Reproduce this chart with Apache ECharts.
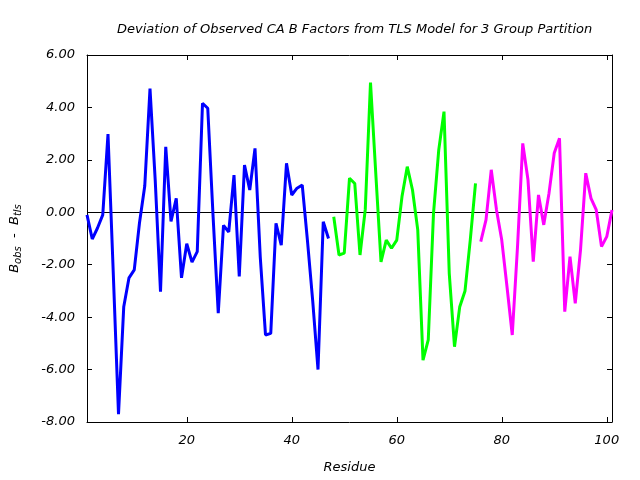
<!DOCTYPE html>
<html>
<head>
<meta charset="utf-8">
<script src="https://cdn.jsdelivr.net/npm/echarts@6.0.0/dist/echarts.min.js"></script>
<style>html,body{margin:0;padding:0;background:#fff}#chart{width:640px;height:480px}</style>
</head>
<body>
<div id="chart"></div>
<script>
// Group 1 (blue): residues 1-47
const group1Start = 1;
const group1Values = [-0.10, -1.02, -0.60, -0.10, 2.98, -2.30, -7.70, -3.60, -2.50, -2.20,
  -0.40, 1.00, 4.72, 1.20, -3.03, 2.50, -0.35, 0.53, -2.50, -1.20,
  -1.90, -1.50, 4.16, 3.97, -0.10, -3.85, -0.50, -0.75, 1.42, -2.45,
  1.80, 0.85, 2.44, -1.70, -4.68, -4.62, -0.42, -1.25, 1.87, 0.66,
  0.92, 1.04, -1.10, -3.40, -6.00, -0.36, -1.00];
// Group 2 (green): residues 48-75
const group2Start = 48;
const group2Values = [-0.17, -1.63, -1.56, 1.30, 1.10, -1.63, 0.10, 4.95, 1.50, -1.89,
  -1.06, -1.37, -1.06, 0.60, 1.74, 0.85, -0.67, -5.64, -4.87, -0.04,
  2.38, 3.84, -2.33, -5.13, -3.60, -3.00, -1.06, 1.10];
// Group 3 (magenta): residues 76-101
const group3Start = 76;
const group3Values = [-1.12, -0.29, 1.62, 0.09, -1.06, -2.84, -4.68, -1.32, 2.63, 1.23,
  -1.88, 0.66, -0.48, 0.73, 2.26, 2.82, -3.79, -1.69, -3.47, -1.44,
  1.49, 0.53, 0.09, -1.31, -0.93, 0.09];
const xTicks = [20, 40, 60, 80, 100];
const yTicks = [-8, -6, -4, -2, 0, 2, 4, 6];

function pairs(start, vals) { return vals.map((v, i) => [start + i, v]); }

const FONT = 'DejaVu Sans';
const chart = echarts.init(document.getElementById('chart'), null, {renderer: 'canvas'});
const grid = {left: 85, right: 28, top: 55, bottom: 58};
const lineSeries = (name, color, data) => ({
  name, type: 'line', data, symbol: 'none', smooth: false,
  lineStyle: {color, width: 3}, itemStyle: {color}, animation: false, z: 3
});
const option = {
  animation: false,
  title: {
    text: 'Deviation of Observed CA B Factors from TLS Model for 3 Group Partition',
    left: 112, top: 18,
    textStyle: {fontFamily: FONT, fontStyle: 'italic', fontWeight: 'normal', fontSize: 13, color: '#000'}
  },
  grid,
  xAxis: [{
    type: 'value', min: 1, max: 101,
    name: 'Residue', nameLocation: 'middle', nameGap: 39,
    nameTextStyle: {fontFamily: FONT, fontStyle: 'italic', fontSize: 13, color: '#000'},
    axisLine: {show: true, onZero: false, lineStyle: {color: '#000', width: 1}},
    axisTick: {show: true, inside: true, length: 5, customValues: xTicks, lineStyle: {color: '#000'}},
    axisLabel: {customValues: xTicks, fontFamily: FONT, fontStyle: 'italic', fontSize: 13, color: '#000', margin: 12},
    splitLine: {show: false}
  }, {
    type: 'value', min: 1, max: 101, position: 'top',
    axisLine: {show: true, onZero: false, lineStyle: {color: '#000', width: 1}},
    axisTick: {show: true, inside: true, length: 5, customValues: xTicks, lineStyle: {color: '#000'}},
    axisLabel: {show: false}, splitLine: {show: false}
  }],
  yAxis: [{
    type: 'value', min: -8, max: 6, interval: 2,
    name: '{i|B}{s|obs}{i|  -  B}{s|tls}', nameLocation: 'middle', nameGap: 64, nameRotate: 90,
    nameTextStyle: {rich: {
      i: {fontFamily: FONT, fontStyle: 'italic', fontSize: 13, color: '#000'},
      s: {fontFamily: FONT, fontStyle: 'italic', fontSize: 10, color: '#000', verticalAlign: 'bottom', padding: [7, 0, 0, 0]}
    }},
    axisLine: {show: true, onZero: false, lineStyle: {color: '#000', width: 1}},
    axisTick: {show: true, inside: true, length: 5, lineStyle: {color: '#000'}},
    axisLabel: {formatter: v => v.toFixed(2), fontFamily: FONT, fontStyle: 'italic', fontSize: 13, color: '#000', margin: 12},
    splitLine: {show: false}
  }, {
    type: 'value', min: -8, max: 6, interval: 2, position: 'right',
    axisLine: {show: true, onZero: false, lineStyle: {color: '#000', width: 1}},
    axisTick: {show: true, inside: true, length: 5, lineStyle: {color: '#000'}},
    axisLabel: {show: false}, splitLine: {show: false}
  }],
  series: [
    Object.assign(lineSeries('group1', '#0000ff', pairs(group1Start, group1Values)), {
      markLine: {silent: true, symbol: 'none', label: {show: false},
        lineStyle: {color: '#000', width: 1, type: 'solid'}, data: [{yAxis: 0}], z: 2}
    }),
    lineSeries('group2', '#00ff00', pairs(group2Start, group2Values)),
    lineSeries('group3', '#ff00ff', pairs(group3Start, group3Values))
  ]
};
chart.setOption(option);
</script>
</body>
</html>
